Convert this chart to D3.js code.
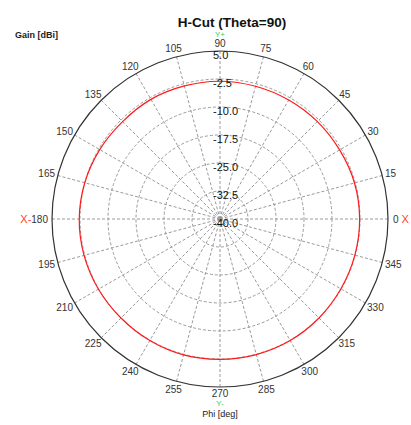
<!DOCTYPE html>
<html>
<head>
<meta charset="utf-8">
<script src="https://cdn.jsdelivr.net/npm/d3@7"></script>
<style>
  body { margin: 0; background: #fff; }
  svg { font-family: "Liberation Sans", Arial, sans-serif; }
</style>
</head>
<body>
<div id="chart"></div>
<script>
// data
var phiDeg = [0, 15, 30, 45, 60, 75, 90, 105, 120, 135, 150, 165,
              180, 195, 210, 225, 240, 255, 270, 285, 300, 315, 330, 345];
var gainDbi = [-2.6, -2.7, -3.0, -3.1, -3.2, -3.2, -3.1, -3.1, -3.0, -3.1, -2.8, -2.5,
               -2.3, -2.3, -2.4, -2.5, -2.4, -2.3, -2.4, -2.4, -2.4, -2.5, -2.6, -2.6];
var ringValues = [5.0, -2.5, -10.0, -17.5, -25.0, -32.5, -40.0];
var angleTicks = d3.range(0, 360, 15);

var width = 411, height = 425;
var cx = 220, cy = 219, R = 168;

var svg = d3.select("#chart").append("svg")
    .attr("width", width)
    .attr("height", height);

// radius scale: -40 at centre, 5 at the rim
var r = d3.scaleLinear().domain([-40, 5]).range([0, R]);

function px(a, rad) { return cx + rad * Math.cos(a * Math.PI / 180); }
function py(a, rad) { return cy - rad * Math.sin(a * Math.PI / 180); }

var g = svg.append("g");

// dashed rings
g.selectAll(".ring")
    .data(ringValues.filter(function (d) { return d > -40 && d < 5; }))
    .enter()
    .append("circle")
    .attr("cx", cx)
    .attr("cy", cy)
    .attr("r", function (d) { return r(d); })
    .attr("fill", "none")
    .attr("stroke", "#9a9a9a")
    .attr("stroke-dasharray", "3,2");

// radial spokes
g.selectAll(".spoke")
    .data(angleTicks)
    .enter()
    .append("line")
    .attr("x1", cx)
    .attr("y1", cy)
    .attr("x2", function (d) { return px(d, R); })
    .attr("y2", function (d) { return py(d, R); })
    .attr("stroke", "#9a9a9a")
    .attr("stroke-dasharray", "3,2");

// outer circle
g.append("circle")
    .attr("cx", cx)
    .attr("cy", cy)
    .attr("r", R)
    .attr("fill", "none")
    .attr("stroke", "#333")
    .attr("stroke-width", 1.2);

// pattern
var pts = phiDeg.map(function (d, i) { return [d, gainDbi[i]]; });
var line = d3.lineRadial()
    .angle(function (d) { return (90 - d[0]) * Math.PI / 180; })
    .radius(function (d) { return r(d[1]); })
    .curve(d3.curveCardinalClosed);

g.append("path")
    .datum(pts)
    .attr("transform", "translate(" + cx + "," + cy + ")")
    .attr("d", line)
    .attr("fill", "none")
    .attr("stroke", "#ff1a1a")
    .attr("stroke-width", 1.2);

// ring labels
g.selectAll(".ringLabel")
    .data(ringValues)
    .enter()
    .append("text")
    .attr("x", cx - 7)
    .attr("y", function (d) { return cy - r(d) + 4; })
    .attr("dy", "0.35em")
    .attr("font-size", 11)
    .attr("fill", "#111")
    .text(function (d) { return d.toFixed(1); });

// angle labels
var lab = g.selectAll(".angLabel")
    .data(angleTicks)
    .enter()
    .append("text")
    .attr("font-size", 10)
    .attr("fill", "#333")
    .attr("text-anchor", "middle")
    .attr("dy", "0.35em");

lab.each(function (d) {
    var t = d3.select(this);
    var c = Math.cos(d * Math.PI / 180), s = Math.sin(d * Math.PI / 180);
    var txt = String(d);
    var hw = txt.length * 2.8;
    t.attr("x", px(d, R + 3) + c * hw)
     .attr("y", py(d, R + 3) - s * 5);
    if (d == 0) {
        t.attr("text-anchor", "start").attr("x", cx + R + 5);
        t.append("tspan").text("0");
        t.append("tspan").attr("fill", "#ff4422").attr("font-size", 11).text(" X");
    } else if (d == 180) {
        t.attr("text-anchor", "end").attr("x", cx - R - 4);
        t.append("tspan").attr("fill", "#ff4422").attr("font-size", 11).text("X-");
        t.append("tspan").text("180");
    } else if (d == 90) {
        t.attr("y", 43).text(txt);
    } else if (d == 270) {
        t.attr("y", 393).text(txt);
    } else {
        t.text(txt);
    }
});

// Y+ / Y-
svg.append("text")
    .attr("x", cx).attr("y", 34).attr("dy", "0.35em")
    .attr("text-anchor", "middle")
    .attr("font-size", 8).attr("fill", "#44cc44")
    .text("Y+");
svg.append("text")
    .attr("x", cx).attr("y", 403).attr("dy", "0.35em")
    .attr("text-anchor", "middle")
    .attr("font-size", 8).attr("fill", "#44cc44")
    .text("Y-");

// titles
svg.append("text")
    .attr("x", 232).attr("y", 22).attr("dy", "0.35em")
    .attr("text-anchor", "middle")
    .attr("font-size", 13.5).attr("font-weight", "bold")
    .attr("fill", "#111")
    .text("H-Cut (Theta=90)");
svg.append("text")
    .attr("x", 15).attr("y", 35).attr("dy", "0.35em")
    .attr("font-size", 9).attr("font-weight", "bold")
    .attr("fill", "#222")
    .text("Gain [dBi]");
svg.append("text")
    .attr("x", cx).attr("y", 414).attr("dy", "0.35em")
    .attr("text-anchor", "middle")
    .attr("font-size", 9)
    .attr("fill", "#222")
    .text("Phi [deg]");
</script>
</body>
</html>
